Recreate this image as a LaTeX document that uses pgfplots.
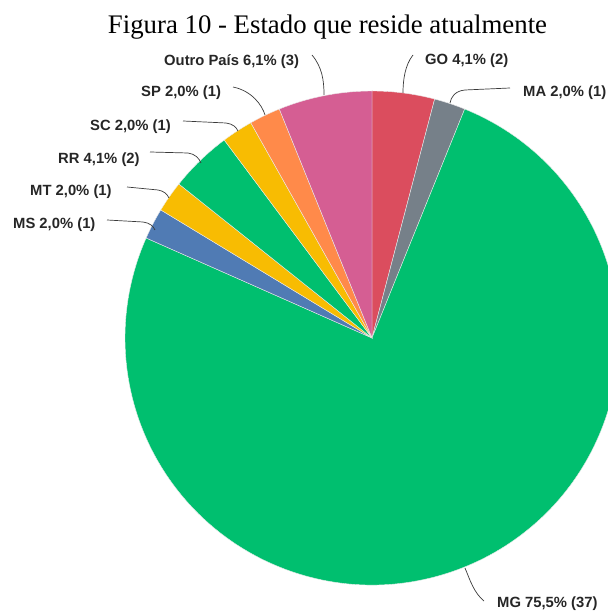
\documentclass[border=0pt]{standalone}
\usepackage{pgfplots}
\usepackage{pgfplotstable}
\pgfplotsset{compat=1.18}
\usepackage{fontspec}
\setmainfont{Liberation Serif}
\newfontfamily\lblfont{Liberation Sans}
\definecolor{cGO}{HTML}{DB4D5E}
\definecolor{cMA}{HTML}{768089}
\definecolor{cMG}{HTML}{00BF6F}
\definecolor{cMS}{HTML}{507BB4}
\definecolor{cMT}{HTML}{F8BC02}
\definecolor{cRR}{HTML}{00BF6F}
\definecolor{cSC}{HTML}{F8BC02}
\definecolor{cSP}{HTML}{FF8A4A}
\definecolor{cOP}{HTML}{D55E93}
\definecolor{leader}{HTML}{3A3A3A}
\pgfplotstableread[col sep=comma]{
label,count,color
GO,2,cGO
MA,1,cMA
MG,37,cMG
MS,1,cMS
MT,1,cMT
RR,2,cRR
SC,1,cSC
SP,1,cSP
Outro,3,cOP
}\piedata
\begin{document}
\begin{tikzpicture}
\useasboundingbox (0,0) rectangle (608bp,615bp);
\begin{axis}[at={(0,0)}, anchor=south west, scale only axis,
  width=608bp, height=615bp, xmin=0, xmax=608, ymin=0, ymax=615,
  hide axis, clip=true]
\def\total{49}
\def\angA{90}
\pgfplotsforeachungrouped \i in {0,...,8}{%
  \pgfplotstablegetelem{\i}{count}\of\piedata \let\cnt\pgfplotsretval
  \pgfplotstablegetelem{\i}{color}\of\piedata \let\col\pgfplotsretval
  \pgfmathsetmacro\angB{\angA - \cnt*360/\total}%
  \edef\temp{\noexpand\fill[\col, draw=white!85!gray, line width=0.4bp] (axis cs:372,277) -- ++(\angA:247bp) arc[start angle=\angA, end angle=\angB, radius=247bp] -- cycle;}%
  \temp
  \let\angA\angB
}
% leader lines
\draw[leader, line width=0.7bp] (axis cs:312,560) .. controls (axis cs:322,548) and (axis cs:324,535) .. (axis cs:324,520);
\draw[leader, line width=0.7bp] (axis cs:233,528) .. controls (axis cs:252,524) and (axis cs:262,510) .. (axis cs:265,500);
\draw[leader, line width=0.7bp] (axis cs:183,494) -- (axis cs:226,492) .. controls (axis cs:233,491) and (axis cs:236,488) .. (axis cs:238,484);
\draw[leader, line width=0.7bp] (axis cs:150,463) -- (axis cs:188,462) .. controls (axis cs:195,461) and (axis cs:199,457) .. (axis cs:201,452);
\draw[leader, line width=0.7bp] (axis cs:127,428) -- (axis cs:158,425) .. controls (axis cs:164,424) and (axis cs:167,421) .. (axis cs:169,417);
\draw[leader, line width=0.7bp] (axis cs:107,395) -- (axis cs:143,393) .. controls (axis cs:150,392) and (axis cs:153,389) .. (axis cs:155,385);
\draw[leader, line width=0.7bp] (axis cs:413,560) .. controls (axis cs:405,550) and (axis cs:403,535) .. (axis cs:403,522);
\draw[leader, line width=0.7bp] (axis cs:510,527) -- (axis cs:465,525) .. controls (axis cs:455,524) and (axis cs:451,518) .. (axis cs:450,512);
\draw[leader, line width=0.7bp] (axis cs:465,47) .. controls (axis cs:470,35) and (axis cs:474,22) .. (axis cs:484,14);
% labels
\tikzset{lbl/.style={anchor=west, inner sep=0pt, font=\lblfont\bfseries\fontsize{14.8bp}{16bp}\selectfont, text=black!85}}
\node[lbl] at (axis cs:164,553) {Outro País 6,1\% (3)};
\node[lbl] at (axis cs:141,522) {SP 2,0\% (1)};
\node[lbl] at (axis cs:90,488) {SC 2,0\% (1)};
\node[lbl] at (axis cs:58,455) {RR 4,1\% (2)};
\node[lbl] at (axis cs:30,423) {MT 2,0\% (1)};
\node[lbl] at (axis cs:13,390) {MS 2,0\% (1)};
\node[lbl] at (axis cs:425,554) {GO 4,1\% (2)};
\node[lbl] at (axis cs:523,522) {MA 2,0\% (1)};
\node[lbl] at (axis cs:497,11) {MG 75,5\% (37)};
% title
\node[anchor=base, inner sep=0pt, font=\fontsize{26.8bp}{30bp}\selectfont] at (axis cs:327.5,581) {Figura 10 - Estado que reside atualmente};
\end{axis}
\end{tikzpicture}
\end{document}
